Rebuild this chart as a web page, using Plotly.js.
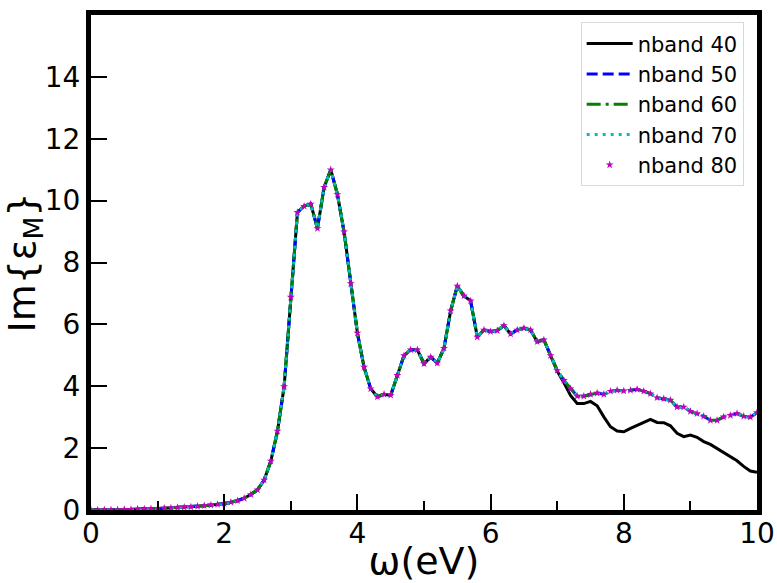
<!DOCTYPE html>
<html>
<head>
<meta charset="utf-8">
<script src="https://cdn.plot.ly/plotly-3.0.1.min.js"></script>
<style>html,body{margin:0;padding:0;background:#fff;}#chart{width:777px;height:583px;}</style>
</head>
<body>
<div id="chart"></div>
<script>
// photon energy grid (eV)
const omega = [
  0.0,0.1,0.2,0.3,0.4,0.5,0.6,0.7,0.8,0.9,
  1.0,1.1,1.2,1.3,1.4,1.5,1.6,1.7,1.8,1.9,
  2.0,2.1,2.2,2.3,2.4,2.5,2.6,2.7,2.8,2.9,
  3.0,3.1,3.2,3.3,3.4,3.5,3.6,3.7,3.8,3.9,
  4.0,4.1,4.2,4.3,4.4,4.5,4.6,4.7,4.8,4.9,
  5.0,5.1,5.2,5.3,5.4,5.5,5.6,5.7,5.8,5.9,
  6.0,6.1,6.2,6.3,6.4,6.5,6.6,6.7,6.8,6.9,
  7.0,7.1,7.2,7.3,7.4,7.5,7.6,7.7,7.8,7.9,
  8.0,8.1,8.2,8.3,8.4,8.5,8.6,8.7,8.8,8.9,
  9.0,9.1,9.2,9.3,9.4,9.5,9.6,9.7,9.8,9.9,
  10.0
];
// Im{eps_M}, nband 40
const nband40 = [
  0.00,0.00,0.01,0.01,0.01,0.02,0.02,0.03,0.03,0.04,
  0.05,0.06,0.07,0.08,0.09,0.10,0.12,0.14,0.16,0.18,
  0.21,0.25,0.30,0.38,0.50,0.65,0.97,1.58,2.55,3.99,
  6.88,9.62,9.82,9.89,9.10,10.43,11.00,10.20,8.99,7.32,
  5.72,4.62,3.92,3.66,3.74,3.71,4.35,4.99,5.18,5.18,
  4.73,4.94,4.75,5.23,6.44,7.24,6.92,6.76,5.59,5.82,
  5.77,5.80,5.96,5.69,5.82,5.88,5.82,5.44,5.50,4.99,
  4.49,4.12,3.70,3.44,3.44,3.51,3.37,3.01,2.69,2.55,
  2.53,2.64,2.74,2.85,2.93,2.83,2.82,2.72,2.48,2.37,
  2.42,2.35,2.21,2.12,1.99,1.85,1.73,1.59,1.41,1.26,
  1.22
];
// Im{eps_M}, nband 50
const nband50 = [
  0.00,0.00,0.01,0.01,0.01,0.02,0.02,0.03,0.03,0.04,
  0.05,0.06,0.07,0.08,0.09,0.10,0.12,0.14,0.16,0.18,
  0.21,0.25,0.30,0.38,0.50,0.65,0.97,1.58,2.55,3.99,
  6.88,9.62,9.82,9.89,9.10,10.43,11.00,10.20,8.99,7.32,
  5.72,4.62,3.92,3.66,3.74,3.71,4.35,4.99,5.18,5.18,
  4.73,4.94,4.75,5.23,6.44,7.24,6.92,6.76,5.59,5.82,
  5.77,5.80,5.96,5.69,5.82,5.88,5.82,5.44,5.50,4.99,
  4.51,4.19,3.92,3.68,3.68,3.74,3.78,3.74,3.84,3.87,
  3.85,3.87,3.90,3.84,3.76,3.63,3.60,3.55,3.33,3.33,
  3.19,3.12,3.03,2.90,2.90,3.01,3.06,3.12,3.03,3.00,
  3.15
];
// Im{eps_M}, nband 60
const nband60 = [
  0.00,0.00,0.01,0.01,0.01,0.02,0.02,0.03,0.03,0.04,
  0.05,0.06,0.07,0.08,0.09,0.10,0.12,0.14,0.16,0.18,
  0.21,0.25,0.30,0.38,0.50,0.65,0.97,1.58,2.55,3.99,
  6.88,9.62,9.82,9.89,9.10,10.43,11.00,10.20,8.99,7.32,
  5.72,4.62,3.92,3.66,3.74,3.71,4.35,4.99,5.18,5.18,
  4.73,4.94,4.75,5.23,6.44,7.24,6.92,6.76,5.59,5.82,
  5.77,5.80,5.96,5.69,5.82,5.88,5.82,5.44,5.50,4.99,
  4.51,4.19,3.92,3.68,3.68,3.74,3.78,3.74,3.84,3.87,
  3.85,3.87,3.90,3.84,3.76,3.63,3.60,3.55,3.33,3.33,
  3.19,3.12,3.03,2.90,2.90,3.01,3.06,3.12,3.03,3.00,
  3.15
];
// Im{eps_M}, nband 70
const nband70 = [
  0.00,0.00,0.01,0.01,0.01,0.02,0.02,0.03,0.03,0.04,
  0.05,0.06,0.07,0.08,0.09,0.10,0.12,0.14,0.16,0.18,
  0.21,0.25,0.30,0.38,0.50,0.65,0.97,1.58,2.55,3.99,
  6.88,9.62,9.82,9.89,9.10,10.43,11.00,10.20,8.99,7.32,
  5.72,4.62,3.92,3.66,3.74,3.71,4.35,4.99,5.18,5.18,
  4.73,4.94,4.75,5.23,6.44,7.24,6.92,6.76,5.59,5.82,
  5.77,5.80,5.96,5.69,5.82,5.88,5.82,5.44,5.50,4.99,
  4.51,4.19,3.92,3.68,3.68,3.74,3.78,3.74,3.84,3.87,
  3.85,3.87,3.90,3.84,3.76,3.63,3.60,3.55,3.33,3.33,
  3.19,3.12,3.03,2.90,2.90,3.01,3.06,3.12,3.03,3.00,
  3.15
];
// Im{eps_M}, nband 80
const nband80 = [
  0.00,0.00,0.01,0.01,0.01,0.02,0.02,0.03,0.03,0.04,
  0.05,0.06,0.07,0.08,0.09,0.10,0.12,0.14,0.16,0.18,
  0.21,0.25,0.30,0.38,0.50,0.65,0.97,1.58,2.55,3.99,
  6.88,9.62,9.82,9.89,9.10,10.43,11.00,10.20,8.99,7.32,
  5.72,4.62,3.92,3.66,3.74,3.71,4.35,4.99,5.18,5.18,
  4.73,4.94,4.75,5.23,6.44,7.24,6.92,6.76,5.59,5.82,
  5.77,5.80,5.96,5.69,5.82,5.88,5.82,5.44,5.50,4.99,
  4.51,4.19,3.92,3.68,3.68,3.74,3.78,3.74,3.84,3.87,
  3.85,3.87,3.90,3.84,3.76,3.63,3.60,3.55,3.33,3.33,
  3.19,3.12,3.03,2.90,2.90,3.01,3.06,3.12,3.03,3.00,
  3.15
];
const seriesNames = ['nband 40','nband 50','nband 60','nband 70','nband 80'];
const xTickVals = [0,2,4,6,8,10];
const yTickVals = [0,2,4,6,8,10,12,14];

const FONT = 'DejaVu Sans, Liberation Sans, sans-serif';
const traces = [
  {x: omega, y: nband40, name: seriesNames[0], mode: 'lines',
   line: {color: '#000000', width: 3, dash: 'solid'}},
  {x: omega, y: nband50, name: seriesNames[1], mode: 'lines',
   line: {color: '#0000ff', width: 3, dash: '11px,5px'}},
  {x: omega, y: nband60, name: seriesNames[2], mode: 'lines',
   line: {color: '#008000', width: 3, dash: '14px,5px,3px,5px'}},
  {x: omega, y: nband70, name: seriesNames[3], mode: 'lines',
   line: {color: '#00bfbf', width: 3, dash: '3px,5px'}},
  {x: omega, y: nband80, name: seriesNames[4], mode: 'markers',
   marker: {symbol: 'star', color: '#bf00bf', size: 6, line: {width: 0}}}
];

const layout = {
  width: 777, height: 583,
  margin: {l: 91, r: 20, t: 15, b: 73, pad: 0},
  paper_bgcolor: '#ffffff', plot_bgcolor: '#ffffff',
  font: {family: FONT, color: '#000000', size: 24},
  showlegend: true,
  legend: {
    x: 0.98, y: 0.985, xanchor: 'right', yanchor: 'top',
    bgcolor: 'rgba(255,255,255,0.9)', bordercolor: '#d9d9d9', borderwidth: 1,
    font: {family: FONT, size: 21, color: '#000000'},
    itemwidth: 46, tracegroupgap: 0
  },
  xaxis: {
    range: [0, 10], tickmode: 'array', tickvals: xTickVals,
    ticktext: xTickVals.map(String),
    ticks: 'inside', ticklen: 16, tickwidth: 2, tickcolor: '#000',
    minor: {dtick: 1, ticks: 'inside', ticklen: 9, tickwidth: 2, tickcolor: '#000', showgrid: false},
    showline: true, linewidth: 5, linecolor: '#000', mirror: true,
    showgrid: false, zeroline: false,
    ticklabelstandoff: -6,
    tickfont: {family: FONT, size: 28, color: '#000'},
    title: {text: 'ω(eV)', font: {family: FONT, size: 38, color: '#000'}, standoff: 2}
  },
  yaxis: {
    range: [0, 16], tickmode: 'array', tickvals: yTickVals,
    ticktext: yTickVals.map(String),
    ticks: 'inside', ticklen: 16, tickwidth: 2, tickcolor: '#000',
    showline: true, linewidth: 5, linecolor: '#000', mirror: true,
    showgrid: false, zeroline: false,
    tickfont: {family: FONT, size: 28, color: '#000'},
    title: {text: 'Im{ε<sub>M</sub>}', font: {family: FONT, size: 38, color: '#000'}, standoff: 4}
  }
};

Plotly.newPlot('chart', traces, layout, {displayModeBar: false, staticPlot: true});
</script>
</body>
</html>
